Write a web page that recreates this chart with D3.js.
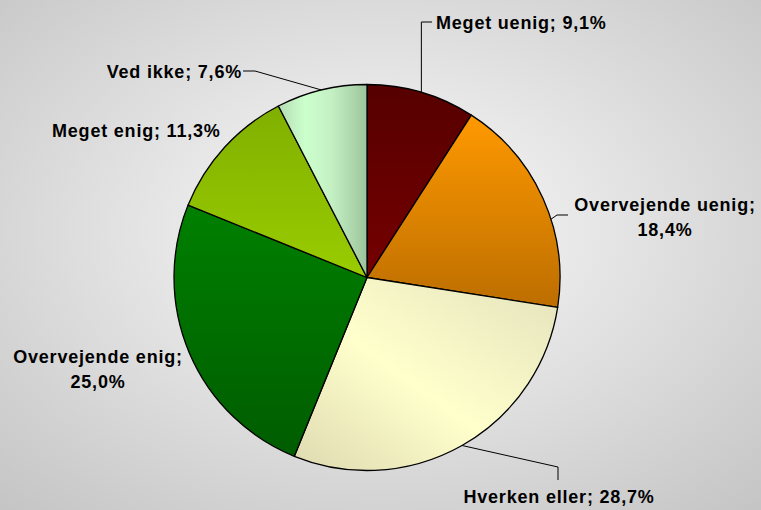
<html>
<head>
<style>
body { margin: 0; }
.lbl { font-family: "Liberation Sans", Arial, sans-serif; font-weight: bold; font-size: 18px; letter-spacing: 0.8px; fill: #000; }
.leader { stroke: #000; stroke-width: 1; fill: none; }
</style>
</head>
<body>
<div class="chart"></div>
<script src="https://d3js.org/d3.v7.min.js"></script>
<script>
var categories = ["Meget uenig", "Overvejende uenig", "Hverken eller", "Overvejende enig", "Meget enig", "Ved ikke"];
var values = [9.1, 18.4, 28.7, 25.0, 11.3, 7.6];
var valueLabels = ["9,1%", "18,4%", "28,7%", "25,0%", "11,3%", "7,6%"];

var width = 761, height = 510;
var cx = 367, cy = 277.5, r = 193;

var svg = d3.select(".chart").append("svg")
    .attr("width", width)
    .attr("height", height);

var defs = svg.append("defs");

// background
var bg = defs.append("radialGradient").attr("id", "bg")
    .attr("cx", "0.5").attr("cy", "0.45").attr("r", "0.75");
bg.append("stop").attr("offset", "0").attr("stop-color", "#fbfbfb");
bg.append("stop").attr("offset", "1").attr("stop-color", "#c4c4c4");
svg.append("rect").attr("width", width).attr("height", height).attr("fill", "url(#bg)");

// slice fills
var fills = [
  {x1: 0, y1: 0, x2: 0, y2: 1, stops: [[0, "#560000"], [1, "#750000"]]},
  {x1: 0, y1: 0, x2: 0, y2: 1, stops: [[0, "#ff9900"], [1, "#bc6e00"]]},
  {x1: 0, y1: 1, x2: 1, y2: 0, stops: [[0, "#dedab0"], [0.45, "#ffffcc"], [1, "#e4e2bc"]]},
  {x1: 0, y1: 0, x2: 0, y2: 1, stops: [[0, "#008000"], [1, "#005c00"]]},
  {x1: 0, y1: 0, x2: 0, y2: 1, stops: [[0, "#80b000"], [1, "#9acc00"]]},
  {x1: 0, y1: 0, x2: 1, y2: 0, stops: [[0, "#b4dcb4"], [0.3, "#ccffcc"], [0.6, "#c4f0c4"], [1, "#9cc49c"]]}
];
fills.forEach(function(f, i){
  var g = defs.append("linearGradient").attr("id", "s" + i)
      .attr("x1", f.x1).attr("y1", f.y1).attr("x2", f.x2).attr("y2", f.y2);
  f.stops.forEach(function(s){
    g.append("stop").attr("offset", s[0]).attr("stop-color", s[1]);
  });
});

var pie = d3.pie().sort(null).value(function(d){ return d; });
var arc = d3.arc().innerRadius(0).outerRadius(r);
var arcs = pie(values);

var g = svg.append("g").attr("transform", "translate(" + cx + "," + cy + ")");

g.selectAll(".slice")
    .data(arcs)
  .enter().append("path")
    .attr("class", "slice")
    .attr("d", arc)
    .attr("fill", function(d, i){ return "url(#s" + i + ")"; })
    .attr("stroke", "#000")
    .attr("stroke-width", 1.3)
    .attr("stroke-linejoin", "round");

// point on rim at given fraction of slice angle
function rim(i, frac){
  var a = arcs[i].startAngle + (arcs[i].endAngle - arcs[i].startAngle) * frac;
  return [cx + r * Math.sin(a), cy - r * Math.cos(a)];
}

var line = d3.line();
var p0 = rim(0, 0.5);
var leaders = [
  [p0, [p0[0], 22], [432, 22]],
  [rim(1, 0.6), [557, 215], [568, 215]],
  [rim(2, 0.5), [558, 467], [558, 480]],
  [rim(5, 0.5), [255, 71], [243, 71]]
];

svg.selectAll(".leader")
    .data(leaders)
  .enter().append("path")
    .attr("class", "leader")
    .attr("d", function(d){ return line(d); });

var labels = [
  {lines: [categories[0] + "; " + valueLabels[0]], x: 436, y: 29, anchor: "start"},
  {lines: [categories[1] + ";", valueLabels[1]], x: 665, y: 211, anchor: "middle"},
  {lines: [categories[2] + "; " + valueLabels[2]], x: 559, y: 503, anchor: "middle"},
  {lines: [categories[3] + ";", valueLabels[3]], x: 98, y: 363, anchor: "middle"},
  {lines: [categories[4] + "; " + valueLabels[4]], x: 52, y: 137, anchor: "start"},
  {lines: [categories[5] + "; " + valueLabels[5]], x: 242, y: 78, anchor: "end"}
];

labels.forEach(function(l){
  var t = svg.append("text")
      .attr("class", "lbl")
      .attr("x", l.x).attr("y", l.y)
      .attr("text-anchor", l.anchor);
  l.lines.forEach(function(s, k){
    t.append("tspan").attr("x", l.x).attr("dy", k === 0 ? 0 : 25).text(s);
  });
});
</script>
</body>
</html>
